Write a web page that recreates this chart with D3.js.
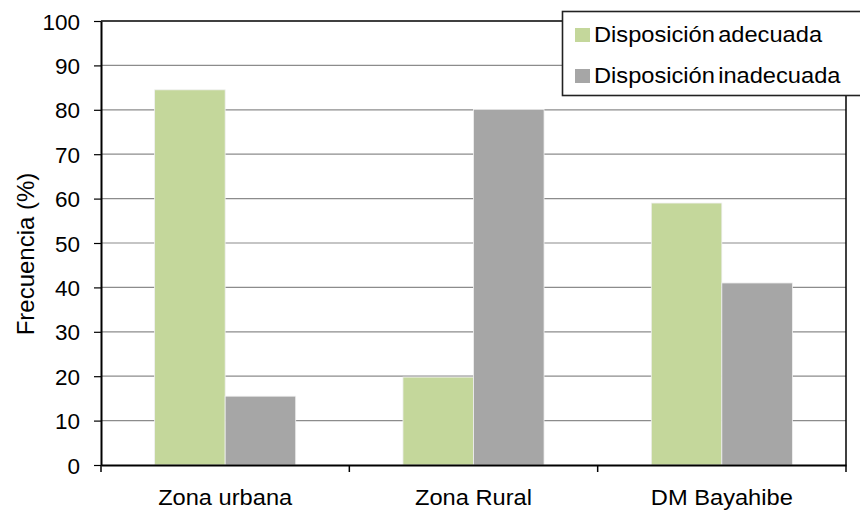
<!DOCTYPE html>
<html><head><meta charset="utf-8">
<script src="https://cdn.jsdelivr.net/npm/d3@7/dist/d3.min.js"></script>
<style>
body{margin:0;background:#fff;}
svg text{font-family:"Liberation Sans",Arial,sans-serif;fill:#000;}
</style></head>
<body><svg id="c" width="860" height="510"></svg>
<script>
const categories = ["Zona urbana", "Zona Rural", "DM Bayahibe"];
const seriesNames = ["Disposición adecuada", "Disposición inadecuada"];
const adecuada = [84.5, 19.8, 59];
const inadecuada = [15.5, 80.1, 41];
const yTicks = [0,10,20,30,40,50,60,70,80,90,100];
const colors = ["#C4D79B", "#A6A6A6"];

const svg = d3.select("#c");
const L = 101, R = 846, T = 21, B = 465;
const x0 = d3.scaleBand().domain(categories).range([L, R]).padding(0);
const x1 = d3.scaleBand().domain(seriesNames).range([0, x0.bandwidth()]).paddingInner(0).paddingOuter(0.76);
const y = d3.scaleLinear().domain([0, 100]).range([B, T]);
const FF = '"Liberation Sans",Arial,sans-serif';

// gridlines
svg.append("g").selectAll("line").data(yTicks.filter(d => d > 0 && d < 100)).join("line")
  .attr("x1", L).attr("x2", R).attr("y1", d => y(d)).attr("y2", d => y(d))
  .attr("stroke", "#8c8c8c").attr("stroke-width", 1.2);

// bars
const data = categories.map((c, i) => ({c, vals: [adecuada[i], inadecuada[i]]}));
const g = svg.append("g").selectAll("g").data(data).join("g")
  .attr("transform", d => `translate(${x0(d.c)},0)`);
g.selectAll("rect").data(d => d.vals.map((v, j) => ({v, s: seriesNames[j], j}))).join("rect")
  .attr("x", d => x1(d.s)).attr("width", x1.bandwidth())
  .attr("y", d => y(d.v)).attr("height", d => y(0) - y(d.v))
  .attr("fill", d => colors[d.j]).attr("stroke", "#f0f0f0").attr("stroke-width", 0.8);

// frame
svg.append("line").attr("x1", L).attr("x2", R).attr("y1", T).attr("y2", T).attr("stroke", "#000").attr("stroke-width", 1.5);
svg.append("line").attr("x1", R).attr("x2", R).attr("y1", T).attr("y2", B).attr("stroke", "#000").attr("stroke-width", 1.5);

// y axis
const yAxis = svg.append("g").attr("transform", `translate(${L},0)`)
  .call(d3.axisLeft(y).tickValues(yTicks).tickSize(7).tickPadding(14).tickSizeOuter(0));
yAxis.select(".domain").attr("stroke", "#000").attr("stroke-width", 2);
yAxis.selectAll(".tick line").attr("stroke", "#000").attr("stroke-width", 1.2);
yAxis.selectAll(".tick text").attr("font-size", 22.5).attr("dy", "0.36em")
  .style("font-family", FF).attr("fill", "#000");

// x axis
const xAxis = svg.append("g").attr("transform", `translate(0,${B})`)
  .call(d3.axisBottom(x0).tickSize(0).tickPadding(0).tickSizeOuter(0));
xAxis.select(".domain").attr("stroke", "#000").attr("stroke-width", 2);
xAxis.selectAll(".tick text").attr("font-size", 21.5).attr("dy", 0).attr("y", 0)
  .attr("transform", "translate(0,40) scale(1.1,1)")
  .style("font-family", FF).attr("fill", "#000");
// category boundary ticks
const bounds = categories.map(c => x0(c)).concat([R]);
svg.append("g").selectAll("line").data(bounds).join("line")
  .attr("x1", d => d).attr("x2", d => d).attr("y1", B).attr("y2", B + 7)
  .attr("stroke", "#000").attr("stroke-width", 1.5);

// y title
svg.append("text").attr("transform", `translate(34,254) rotate(-90)`)
  .attr("text-anchor", "middle").attr("font-size", 24)
  .text("Frecuencia (%)");

// legend
const lg = svg.append("g");
lg.append("rect").attr("x", 562.5).attr("y", 11.5).attr("width", 320).attr("height", 84)
  .attr("fill", "#fff").attr("stroke", "#222").attr("stroke-width", 1.6);
seriesNames.forEach((s, i) => {
  lg.append("rect").attr("x", 575).attr("y", 28 + i * 41).attr("width", 15).attr("height", 14).attr("fill", colors[i]);
  lg.append("text").attr("transform", `translate(594,${42 + i * 41}) scale(1.1,1)`).attr("font-size", 21.5)
    .style("word-spacing", "-3px").text(s);
});
</script></body></html>
